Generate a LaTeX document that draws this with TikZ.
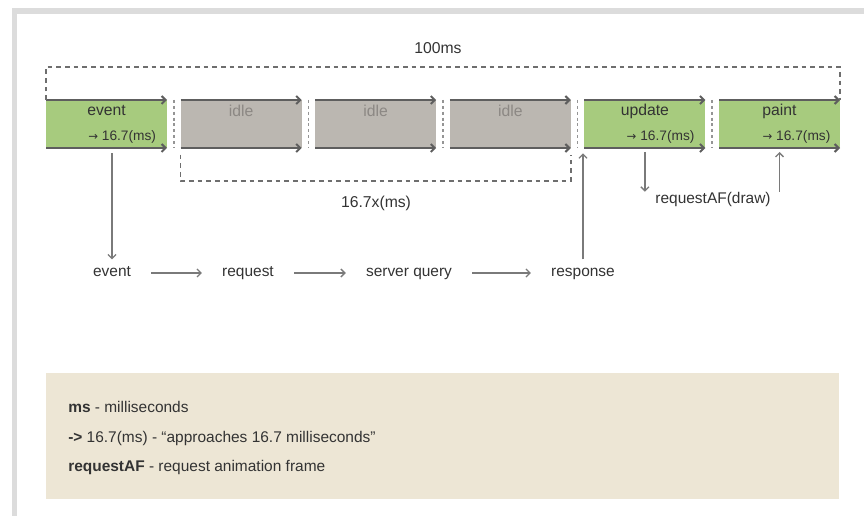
\documentclass[tikz,border=0pt]{standalone}
\usepackage{fontspec}
\setmainfont{Liberation Sans}
\newfontfamily\arrowfont[Scale=0.85]{DejaVu Sans}
\usetikzlibrary{arrows.meta,positioning}
\definecolor{busyGreen}{HTML}{A7CB7E}
\definecolor{idleGray}{HTML}{BBB7B1}
\definecolor{edgeGray}{HTML}{5E5E5E}
\definecolor{lineGray}{HTML}{7A7A7A}
\definecolor{dashGray}{HTML}{6E6E6E}
\definecolor{noteBeige}{HTML}{EDE6D5}
\definecolor{frameGray}{HTML}{DCDCDC}
\definecolor{textDark}{HTML}{333333}
\definecolor{idleText}{HTML}{8C8884}
\tikzset{%
  >={Straight Barb[length=3pt,width=6pt]},
  % Specifications for style of nodes:
            base/.style = {rectangle, draw=none, outer sep=0pt, inner sep=0pt,
                           minimum width=90.75pt, minimum height=36pt},
         busyBar/.style = {base, fill=busyGreen},
         idleBar/.style = {base, fill=idleGray},
         barName/.style = {anchor=center, inner sep=0pt, text=textDark,
                           font=\fontsize{11.8}{14}\selectfont,
                           text height=0.75em, text depth=0.25em},
         idleName/.style = {barName, text=idleText},
         barTime/.style = {anchor=east, inner sep=0pt, text=textDark,
                           font=\fontsize{10.3}{12}\selectfont,
                           text height=0.75em, text depth=0.25em},
         stepText/.style = {inner xsep=15pt, inner ysep=2pt, text=textDark,
                           font=\fontsize{11.6}{14}\selectfont,
                           text height=0.75em, text depth=0.25em},
         noteText/.style = {anchor=west, inner sep=0pt, text=textDark,
                           font=\fontsize{11.6}{14}\selectfont,
                           text height=0.75em, text depth=0.25em},
  % Specifications for style of lines:
         barEdge/.style = {->, draw=edgeGray, line width=1.5pt},
        spanLine/.style = {draw=dashGray, line width=1.1pt, dash pattern=on 3.5pt off 3pt},
         gapLine/.style = {draw=lineGray!80, line width=1.3pt, dash pattern=on 2.2pt off 2.2pt},
        flowLine/.style = {->, draw=lineGray, line width=1pt},
}

\begin{document}
\begin{tikzpicture}[x=0.75pt, y=-0.75pt]
  \useasboundingbox (0,0) rectangle (864,516);
  % page frame
  \fill[frameGray] (12,8) rectangle (864,14);
  \fill[frameGray] (12,8) rectangle (17,516);

  % Specification of bars (position, etc.)
  \node (event)  [busyBar, anchor=north west] at (46,100) {};
  \node (idleA)  [idleBar, right=10.2pt of event] {};
  \node (idleB)  [idleBar, right=10.2pt of idleA] {};
  \node (idleC)  [idleBar, right=10.2pt of idleB] {};
  \node (update) [busyBar, right=10.2pt of idleC] {};
  \node (paint)  [busyBar, right=10.2pt of update] {};

  % texts inside the bars
  \node (eventName)  [barName]  at ([yshift=-9.5pt]event.north)  {event};
  \node (idleAName)  [idleName] at ([yshift=-10pt]idleA.north)   {idle};
  \node (idleBName)  [idleName] at ([yshift=-10pt]idleB.north)   {idle};
  \node (idleCName)  [idleName] at ([yshift=-10pt]idleC.north)   {idle};
  \node (updateName) [barName]  at ([yshift=-9.5pt]update.north) {update};
  \node (paintName)  [barName]  at ([yshift=-9.5pt]paint.north)  {paint};
  \node (eventTime)  [barTime]  at ([xshift=-8pt,yshift=8pt]event.south east)  {{\arrowfont →} 16.7(ms)};
  \node (updateTime) [barTime]  at ([xshift=-8pt,yshift=8pt]update.south east) {{\arrowfont →} 16.7(ms)};
  \node (paintTime)  [barTime]  at ([xshift=-7pt,yshift=8pt]paint.south east)  {{\arrowfont →} 16.7(ms)};

  % top and bottom edges of the bars
  \foreach \bar in {event,idleA,idleB,idleC,update,paint}{
    \draw[barEdge] (\bar.north west) -- (\bar.north east);
    \draw[barEdge] (\bar.south west) -- (\bar.south east);
  }

  % dotted marks between the bars
  \foreach \bar in {event,idleA,idleB,idleC,update}{
    \draw[gapLine] ([xshift=5.1pt]\bar.north east) -- ([xshift=5.1pt]\bar.south east);
  }

  % whole span and idle span
  \node (total)    [barName] at (438,50)  {100ms};
  \coordinate (totalSpan) at (438,67);
  \draw[spanLine] (event.north west) |- (totalSpan) -| (paint.north east);

  \node (idleSpanText) [barName] at (376,204) {16.7x(ms)};
  \coordinate (idleSpan) at (376,181);
  \draw[spanLine, shorten <=5pt] (idleA.south west) |- (idleSpan) -| ([yshift=-5pt]idleC.south east);

  % request chain under the bars
  \node (evt)   [stepText] at (112,273) {event};
  \node (req)   [stepText] at (248,273) {request};
  \node (query) [stepText] at (409,273) {server query};
  \node (resp)  [stepText] at (583,273) {response};

  \draw[flowLine] (evt) -- (req);
  \draw[flowLine] (req) -- (query);
  \draw[flowLine] (query) -- (resp);
  \draw[flowLine, shorten <=4pt, shorten >=3pt] (evt.north |- event.south) -- (evt.north);
  \draw[flowLine, shorten >=4pt, shorten <=3pt] (resp.north) -- (resp.north |- update.south);

  % animation frame request
  \node (raf) [stepText, inner sep=1pt] at (713,200) {requestAF(draw)};
  \draw[flowLine, shorten <=3pt] (update.south) -- (update.south |- raf.north);
  \draw[flowLine, shorten >=3pt] (paint.south |- raf.north) -- (paint.south);

  % legend
  \node (legend) [fill=noteBeige, inner sep=0pt, minimum width=594.75pt,
                  minimum height=94.5pt, anchor=north west] at (46,373) {};
  \node (noteMs)  [noteText] at (68,409) {\textbf{ms} - milliseconds};
  \node (noteTo)  [noteText] at (68,439) {\textbf{->} 16.7(ms) - “approaches 16.7 milliseconds”};
  \node (noteRaf) [noteText] at (68,468) {\textbf{requestAF} - request animation frame};
\end{tikzpicture}
\end{document}
